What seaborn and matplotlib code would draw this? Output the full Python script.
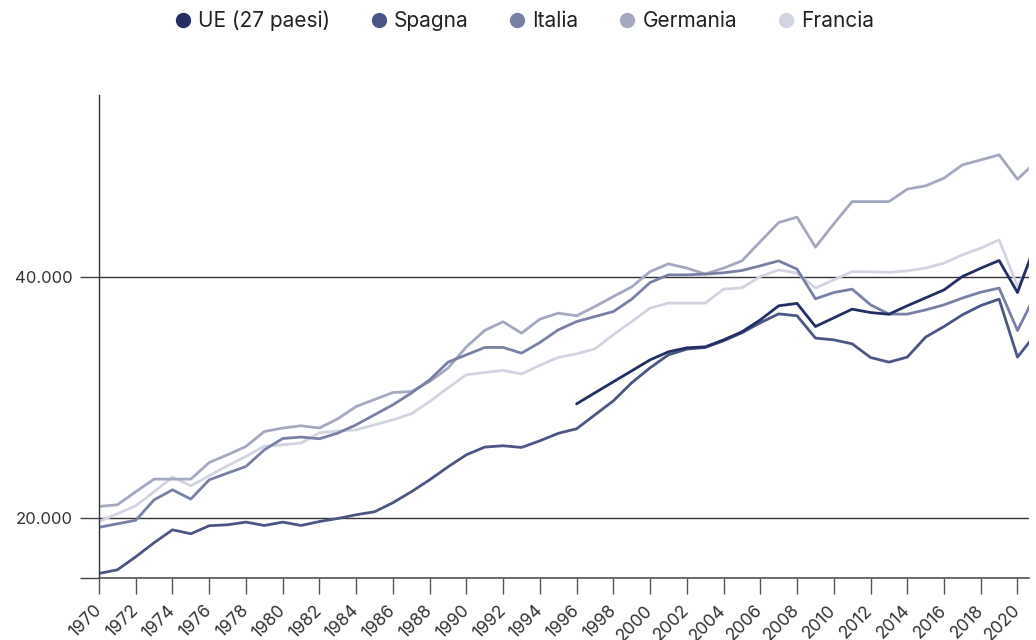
import matplotlib

matplotlib.use("Agg")
import matplotlib.pyplot as plt
import pandas as pd
import seaborn as sns
from matplotlib.lines import Line2D

years = list(range(1970, 2022))

ue_years = list(range(1996, 2022))
ue_27 = [29460, 30380, 31290, 32200, 33110, 33780, 34110, 34190, 34770, 35440,
         36430, 37600, 37800, 35880, 36600, 37320, 37040, 36900, 37600, 38260,
         38920, 40030, 40720, 41360, 38700, 42820]

spagna = [15380, 15680, 16760, 17930, 19000, 18670, 19340, 19420, 19640, 19360,
          19640, 19360, 19690, 19940, 20250, 20500, 21250, 22160, 23150, 24230,
          25230, 25870, 25980, 25840, 26390, 27010, 27390, 28550, 29710, 31210,
          32450, 33530, 34000, 34140, 34690, 35360, 36190, 36930, 36770, 34920,
          34770, 34440, 33310, 32920, 33340, 35000, 35880, 36850, 37620, 38150,
          33340, 35270]

italia = [19210, 19500, 19790, 21490, 22320, 21550, 23150, 23710, 24260, 25640,
          26580, 26700, 26560, 27030, 27720, 28550, 29380, 30350, 31450, 32920,
          33530, 34140, 34140, 33670, 34550, 35600, 36290, 36710, 37120, 38150,
          39530, 40170, 40170, 40230, 40340, 40530, 40920, 41330, 40640, 38180,
          38700, 38980, 37680, 36910, 36910, 37260, 37680, 38240, 38730, 39070,
          35550, 38590]

germania = [20940, 21080, 22160, 23210, 23210, 23210, 24590, 25230, 25920, 27160,
            27450, 27640, 27450, 28220, 29240, 29820, 30400, 30480, 31310, 32430,
            34190, 35560, 36270, 35330, 36490, 36990, 36770, 37540, 38370, 39170,
            40440, 41080, 40730, 40230, 40730, 41330, 42930, 44510, 44960, 42470,
            44400, 46250, 46250, 46250, 47280, 47560, 48200, 49300, 49710, 50130,
            48110, 49550]

francia = [19690, 20330, 21000, 22160, 23380, 22660, 23490, 24320, 25090, 25950,
           26060, 26200, 27060, 27200, 27300, 27720, 28130, 28630, 29650, 30790,
           31870, 32060, 32240, 31940, 32660, 33320, 33610, 34030, 35190, 36290,
           37410, 37820, 37820, 37820, 38980, 39090, 40030, 40580, 40310, 39070,
           39750, 40440, 40420, 40380, 40500, 40730, 41140, 41830, 42390, 43070,
           39200, 42080]

series_names = ["UE (27 paesi)", "Spagna", "Italia", "Germania", "Francia"]
series_colors = ["#232f63", "#4c5684", "#7880a6", "#a4a9c0", "#d2d5e1"]

y_ticks = [15000, 20000, 40000]
y_tick_labels = ["", "20.000", "40.000"]
x_ticks = list(range(1970, 2021, 2))


def build_frame() -> pd.DataFrame:
    frames = [pd.DataFrame({"anno": ue_years, "valore": ue_27, "serie": "UE (27 paesi)"})]
    for name, values in [("Spagna", spagna), ("Italia", italia),
                         ("Germania", germania), ("Francia", francia)]:
        frames.append(pd.DataFrame({"anno": years, "valore": values, "serie": name}))
    return pd.concat(frames, ignore_index=True)


def main() -> None:
    sns.set_theme(style="white")
    plt.rcParams["font.family"] = ["Inter", "DejaVu Sans"]

    data = build_frame()
    fig = plt.figure(figsize=(10.36, 6.4), dpi=100)
    ax = fig.add_axes([99 / 1036, 1 - 578 / 640, 930 / 1036, 483 / 640])

    # lightest first so the darker series sit on top
    palette = dict(zip(series_names, series_colors))
    for name in reversed(series_names):
        sns.lineplot(data=data[data["serie"] == name], x="anno", y="valore",
                     color=palette[name], linewidth=2.0, ax=ax, legend=False)

    ax.set_xlim(1970, 1970 + 930 / 18.37)
    ax.set_ylim(15000, 55100)
    ax.set_xlabel("")
    ax.set_ylabel("")

    ax.set_yticks(y_ticks)
    ax.set_yticklabels(y_tick_labels)
    ax.tick_params(axis="y", length=13.7, width=1.0, color="#444444", pad=5,
                   labelsize=12, labelcolor="#333333", left=True)
    ax.grid(axis="y", color="#333333", linewidth=1.0)
    ax.grid(axis="x", visible=False)

    ax.set_xticks(x_ticks)
    ax.set_xticklabels([str(y) for y in x_ticks], rotation=45, ha="right",
                       va="center", rotation_mode="anchor")
    ax.tick_params(axis="x", length=11.5, width=1.0, color="#555555", pad=10,
                   labelsize=12.5, labelcolor="#333333", bottom=True)

    for side in ["top", "right"]:
        ax.spines[side].set_visible(False)
    ax.spines["left"].set_color("#333333")
    ax.spines["left"].set_linewidth(1.0)
    ax.spines["bottom"].set_color("#555555")
    ax.spines["bottom"].set_linewidth(1.2)

    handles = [Line2D([], [], marker="o", linestyle="", markersize=10,
                      markerfacecolor=c, markeredgecolor=c) for c in series_colors]
    fig.legend(handles, series_names, loc="center", bbox_to_anchor=(0.505, 0.967),
               ncol=5, frameon=False, fontsize=15, handlelength=1.0,
               handletextpad=0.22, columnspacing=1.84, labelcolor="#222222")

    fig.savefig("out.png", dpi=100)
    plt.close(fig)


if __name__ == "__main__":
    main()
